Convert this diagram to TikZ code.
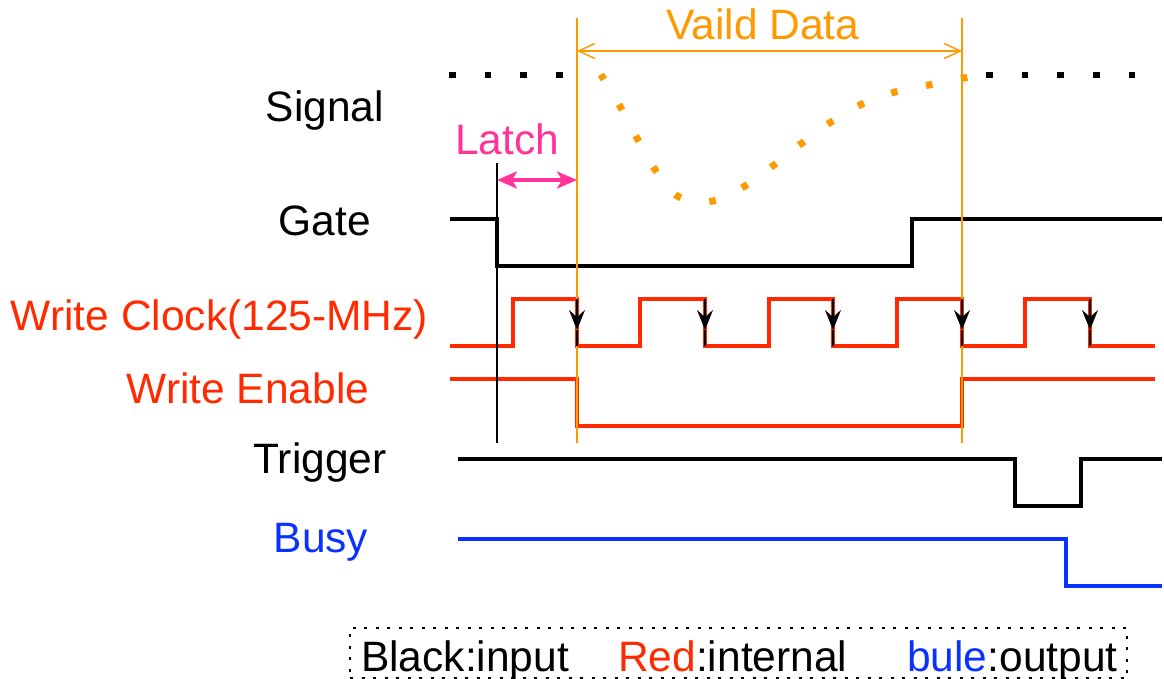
\documentclass[tikz,border=0pt]{standalone}
\usepackage{fontspec}
\setmainfont{Liberation Sans}
\usetikzlibrary{arrows.meta}
\definecolor{sigred}{HTML}{FF2A00}
\definecolor{sigorange}{HTML}{FF9900}
\definecolor{sigpink}{HTML}{FF3399}
\definecolor{sigblue}{HTML}{0A32FF}
\tikzset{
  lbl/.style={font=\fontsize{42.5}{50}\selectfont, inner sep=0pt, anchor=base},
  wave/.style={line width=3.5pt, line join=miter},
  marker/.style={line width=1.5pt},
  clkarrow/.style={line width=1.8pt, -{Stealth[length=20pt,width=16pt,inset=7pt]}},
  sigdots/.style={line width=6.5pt, dash pattern=on 6.5pt off 29.2pt, line cap=butt},
  legendbox/.style={draw, line width=2.5pt, dash pattern=on 3pt off 8.5pt, minimum width=777pt, minimum height=50pt, inner sep=0pt},
}
\begin{document}
\begin{tikzpicture}[x=1pt,y=-1pt]
\useasboundingbox (0,0) rectangle (1164,679);

% labels
\node[lbl] (signal) at (325,122) {Signal};
\node[lbl] (gate) at (325,236) {Gate};
\node[lbl,text=sigred] (wclk) at (219.5,330) {Write Clock(125-MHz)};
\node[lbl,text=sigred] (wen) at (248,403) {Write Enable};
\node[lbl] (trig) at (320,473) {Trigger};
\node[lbl,text=sigblue] (busy) at (321,552) {Busy};
\node[lbl,text=sigorange] (valid) at (763,40) {Vaild Data};
\node[lbl,text=sigpink] (latch) at (507,155) {Latch};

% signal
\draw[sigdots] (449,75) -- (565,75);
\draw[sigdots] (986,75) -- (1136,75);
\draw[sigorange, line width=7pt, dash pattern=on 6.5pt off 29.1pt, line cap=butt]
  plot[smooth, tension=0.6] coordinates {(601.3,75.2) (603,78) (621,108) (638,140) (656,171) (679,197) (713,201) (745,186) (774,165) (802,143) (831,122) (862,104) (895,92) (929,85) (964,78) (968,77.2)};

% waveforms
\draw[wave] (450,219) -- (497,219) -- (497,266) -- (912,266) -- (912,219) -- (1162,219);
\draw[wave, sigred] (450,346) -- (513,346) -- (513,299) -- (577,299) -- (577,346) -- (640,346) -- (640,299) -- (705,299) -- (705,346) -- (769,346) -- (769,299) -- (833,299) -- (833,346) -- (897,346) -- (897,299) -- (962,299) -- (962,346) -- (1025,346) -- (1025,299) -- (1090,299) -- (1090,346) -- (1155,346);
\draw[wave, sigred] (450,379) -- (577,379) -- (577,426) -- (962,426) -- (962,379) -- (1155,379);
\draw[wave] (458,459) -- (1015,459) -- (1015,506) -- (1081,506) -- (1081,459) -- (1162,459);
\draw[wave, sigblue] (458,539) -- (1066,539) -- (1066,586) -- (1162,586);

% marker lines
\coordinate (gtop) at (497,163);
\coordinate (gbot) at (497,443);
\coordinate (v1top) at (577,18);
\coordinate (v1bot) at (577,443);
\coordinate (v2top) at (962,18);
\coordinate (v2bot) at (962,443);
\draw[marker] (gtop) -- (gbot);
\draw[marker, sigorange] (v1top) -- (v1bot);
\draw[marker, sigorange] (v2top) -- (v2bot);

% valid data arrow
\coordinate (va1) at (577,51);
\coordinate (va2) at (962,51);
\draw[marker, sigorange, {Straight Barb[length=16pt,width=15pt]}-{Straight Barb[length=16pt,width=15pt]}] (va1) -- (va2);

% latch arrow
\coordinate (la1) at (497,180);
\coordinate (la2) at (577,180);
\draw[sigpink, line width=3.5pt, {Stealth[length=20pt,width=17pt,inset=5pt]}-{Stealth[length=20pt,width=17pt,inset=5pt]}] (la1) -- (la2);

% clock falling-edge arrows
\foreach \x [count=\i] in {577,705,833,962,1090}{
  \coordinate (ct\i) at (\x,299);
  \coordinate (cm\i) at (\x,330);
  \coordinate (cb\i) at (\x,346);
  \draw[clkarrow] (ct\i) -- (cm\i);
  \draw[line width=1.8pt] (cm\i) -- (cb\i);
}

% legend
\node[legendbox] (legend) at (738.5,653) {};
\node[lbl, anchor=base west] (lgblack) at (361,671) {Black:input};
\node[lbl, anchor=base west] (lgred) at (618,671) {\textcolor{sigred}{Red}:internal};
\node[lbl, anchor=base west] (lgblue) at (907,671) {\textcolor{sigblue}{bule}:output};
\end{tikzpicture}
\end{document}
